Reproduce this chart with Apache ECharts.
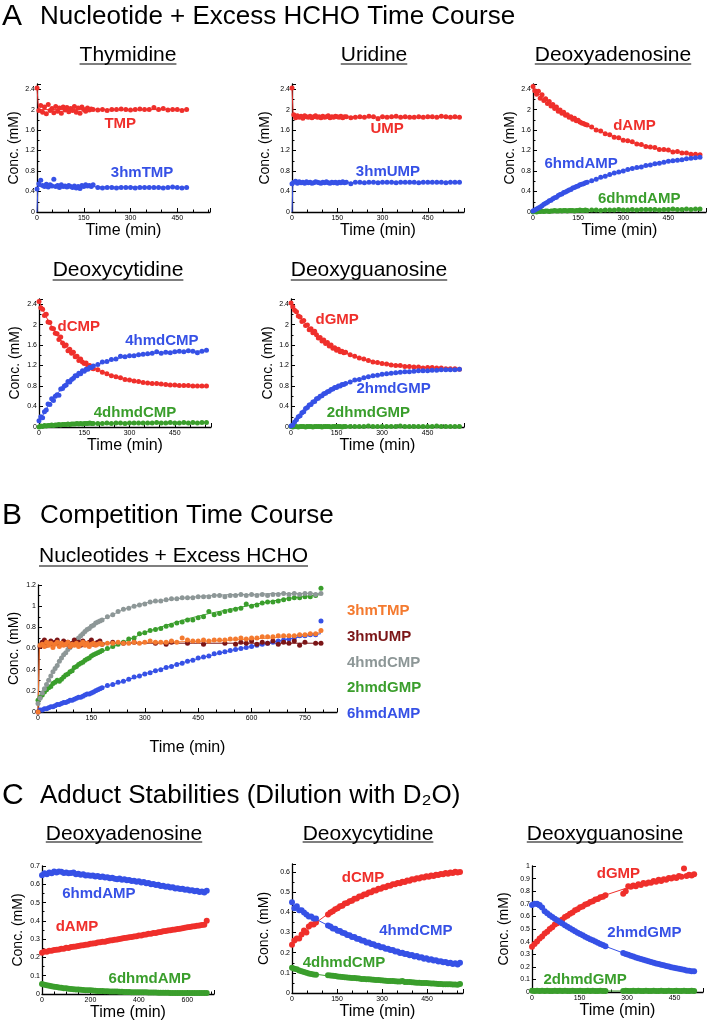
<!DOCTYPE html>
<html><head><meta charset="utf-8">
<script src="https://cdn.jsdelivr.net/npm/echarts@6/dist/echarts.min.js"></script>
<style>html,body{margin:0;padding:0;background:#fff}#c{width:708px;height:1023px}</style>
</head><body><div id="c"></div>
<script>
// ---------------- DATA ----------------
// Panel A shared time grids (min)
const tDense = [0,6,12,18,24,30,36,42,48,54,60,66,72,78,84,90,96,102,108,114,120,126,132,138,144,150,156,162,168,174,180];
const tSparseThy = [195,210,225,240,255,270,285,300,315,330,345,360,375,390,405,420,435,450,465,480];
const tSparse = [195,210,225,240,255,270,285,300,315,330,345,360,375,390,405,420,435,450,465,480,495,510,525,540,555];
const tFitA = [0,30,60,90,120,150,180,240,300,360,420,480,555];

// Thymidine
const thyTMP = [2.42,1.98,2.08,1.95,2.05,1.92,2.1,1.98,2.02,1.94,2.06,1.97,2.03,1.93,2.05,1.99,2.04,1.96,2.02,1.98,2.06,1.95,2.03,1.93,2.05,2.0,1.97,2.03,1.99,2.01,2.0,
  1.99,2.0,1.98,2.0,2.0,2.01,2.0,1.99,2.0,2.01,2.0,2.0,2.04,2.0,2.02,1.99,2.0,2.0,1.98,2.0];
const thy3hmTMP = [0.45,0.55,0.62,0.52,0.5,0.54,0.49,0.53,0.51,0.64,0.5,0.52,0.48,0.53,0.5,0.51,0.49,0.52,0.5,0.48,0.51,0.47,0.5,0.46,0.52,0.5,0.53,0.51,0.52,0.5,0.53,
  0.48,0.47,0.48,0.48,0.47,0.48,0.48,0.48,0.47,0.48,0.48,0.48,0.48,0.48,0.47,0.48,0.49,0.48,0.47,0.48];
const thyFitT = [0,5,480];
const thyFitTMP = [2.42,2.0,2.0];
const thyFit3hmT = [0,3,480];
const thyFit3hmTMP = [0,0.5,0.48];

// Uridine
const uriUMP = [2.42,1.9,1.84,1.88,1.85,1.87,1.83,1.88,1.86,1.85,1.87,1.84,1.86,1.88,1.85,1.86,1.84,1.87,1.85,1.86,1.88,1.84,1.86,1.85,1.87,1.86,1.85,1.87,1.84,1.86,1.86,
  1.84,1.85,1.86,1.85,1.87,1.86,1.82,1.86,1.85,1.86,1.87,1.85,1.86,1.85,1.85,1.86,1.85,1.86,1.86,1.85,1.87,1.86,1.85,1.86,1.85];
const uri3hmUMP = [0.55,0.58,0.6,0.56,0.59,0.57,0.58,0.56,0.59,0.57,0.58,0.56,0.57,0.59,0.58,0.57,0.56,0.58,0.57,0.59,0.57,0.56,0.58,0.57,0.58,0.56,0.58,0.57,0.59,0.57,0.58,
  0.55,0.58,0.58,0.57,0.58,0.58,0.57,0.58,0.58,0.58,0.57,0.58,0.58,0.58,0.58,0.57,0.58,0.58,0.58,0.58,0.58,0.57,0.58,0.58,0.58];
const uriFitT = [0,4,560];
const uriFitUMP = [2.42,1.86,1.85];
const uriFit3hmT = [0,3,560];
const uriFit3hmUMP = [0,0.57,0.58];

// Deoxyadenosine
const daAMP = [2.45,2.37,2.3,2.36,2.22,2.29,2.18,2.21,2.12,2.16,2.07,2.1,2.02,2.05,1.97,1.99,1.93,1.95,1.89,1.9,1.85,1.86,1.81,1.83,1.78,1.79,1.76,1.74,1.73,1.71,1.7,
  1.66,1.6,1.58,1.53,1.51,1.46,1.45,1.4,1.39,1.37,1.33,1.32,1.28,1.27,1.26,1.22,1.22,1.21,1.17,1.18,1.15,1.15,1.13,1.13,1.12];
const da6hmdAMP = [0.02,0.04,0.06,0.08,0.1,0.12,0.15,0.17,0.19,0.22,0.23,0.26,0.28,0.29,0.32,0.34,0.35,0.38,0.39,0.41,0.43,0.44,0.47,0.48,0.5,0.51,0.53,0.54,0.55,0.57,0.58,
  0.61,0.64,0.68,0.7,0.73,0.76,0.78,0.8,0.83,0.85,0.87,0.88,0.91,0.92,0.94,0.95,0.97,0.99,1.0,1.01,1.02,1.04,1.05,1.06,1.07];
const da6dhmdAMP = [0,0.01,0,0.01,0.01,0.02,0.01,0.02,0.02,0.01,0.02,0.02,0.03,0.02,0.02,0.03,0.02,0.03,0.03,0.02,0.03,0.03,0.03,0.02,0.03,0.03,0.04,0.03,0.03,0.04,0.03,
  0.04,0.04,0.03,0.04,0.04,0.04,0.05,0.04,0.04,0.05,0.04,0.05,0.05,0.05,0.05,0.04,0.05,0.05,0.06,0.05,0.05,0.06,0.05,0.06,0.06];
const daFitAMP = [2.4,2.25,2.11,1.99,1.88,1.78,1.69,1.54,1.41,1.31,1.23,1.17,1.11];
const daFit6hm = [0,0.12,0.23,0.33,0.42,0.5,0.58,0.7,0.81,0.89,0.96,1.01,1.07];
const daFit6dhm = [0,0.01,0.02,0.02,0.025,0.03,0.03,0.035,0.04,0.045,0.05,0.05,0.055];

// Deoxycytidine
const dcCMP = [2.45,2.33,2.3,2.18,2.2,2.05,2.04,1.93,1.92,1.83,1.82,1.71,1.76,1.64,1.58,1.6,1.49,1.52,1.44,1.46,1.37,1.38,1.3,1.33,1.27,1.24,1.25,1.19,1.2,1.15,1.14,
  1.12,1.07,1.04,1.0,0.98,0.96,0.93,0.92,0.9,0.89,0.87,0.86,0.85,0.85,0.84,0.83,0.82,0.82,0.81,0.81,0.81,0.8,0.8,0.8,0.8];
const dc4hmdCMP = [0.12,0.2,0.18,0.3,0.33,0.45,0.44,0.55,0.52,0.6,0.63,0.62,0.74,0.75,0.8,0.82,0.89,0.88,0.93,0.95,1.0,1.0,1.05,1.04,1.1,1.09,1.13,1.13,1.16,1.16,1.19,
  1.22,1.27,1.28,1.32,1.33,1.38,1.37,1.39,1.39,1.41,1.42,1.43,1.44,1.47,1.44,1.46,1.45,1.47,1.48,1.47,1.49,1.48,1.45,1.48,1.5];
const dc4dhmdCMP = [0,0.02,0.01,0.03,0.02,0.03,0.03,0.04,0.03,0.04,0.04,0.05,0.04,0.05,0.05,0.05,0.06,0.05,0.06,0.06,0.06,0.07,0.06,0.07,0.06,0.07,0.07,0.07,0.08,0.07,0.07,
  0.07,0.07,0.08,0.07,0.08,0.08,0.07,0.08,0.08,0.08,0.08,0.08,0.08,0.09,0.08,0.08,0.09,0.08,0.08,0.09,0.08,0.09,0.08,0.09,0.09];
const dcFitCMP = [2.45,2.08,1.79,1.57,1.39,1.26,1.15,1.01,0.92,0.86,0.83,0.81,0.8];
const dcFit4hm = [0.1,0.41,0.65,0.84,0.98,1.1,1.19,1.31,1.39,1.43,1.46,1.47,1.49];
const dcFit4dhm = [0.01,0.03,0.04,0.05,0.06,0.065,0.07,0.075,0.078,0.08,0.082,0.084,0.086];

// Deoxyguanosine
const dgGMP = [2.42,2.35,2.28,2.25,2.17,2.15,2.06,2.08,1.98,1.99,1.9,1.92,1.84,1.87,1.8,1.74,1.75,1.68,1.7,1.63,1.65,1.58,1.6,1.54,1.55,1.5,1.52,1.47,1.48,1.45,1.46,
  1.41,1.38,1.35,1.33,1.3,1.27,1.26,1.24,1.23,1.21,1.2,1.2,1.18,1.18,1.17,1.17,1.15,1.16,1.16,1.15,1.15,1.14,1.14,1.14,1.13];
const dg2hmdGMP = [0.02,0.04,0.1,0.14,0.2,0.22,0.28,0.3,0.36,0.38,0.43,0.44,0.49,0.5,0.55,0.56,0.6,0.61,0.65,0.66,0.69,0.7,0.73,0.74,0.77,0.77,0.8,0.8,0.83,0.83,0.85,
  0.88,0.92,0.93,0.96,0.98,1.0,1.01,1.03,1.04,1.05,1.06,1.07,1.08,1.08,1.09,1.1,1.1,1.1,1.11,1.11,1.12,1.12,1.12,1.12,1.13];
const dg2dhmdGMP = [0.01,0,0.01,0.01,0,0.01,0.01,0.01,0,0.01,0.01,0.01,0,0.01,0.01,0.01,0.01,0,0.01,0.01,0.01,0.01,0,0.01,0.01,0.01,0.01,0.01,0,0.01,0.01,
  0.01,0.01,0.01,0.01,0.02,0.01,0.01,0.01,0.01,0.01,0.01,0.02,0.01,0.01,0.01,0.01,0.01,0.01,0.01,0.02,0.01,0.01,0.01,0.01,0.01];
const dgFitGMP = [2.4,2.14,1.93,1.76,1.63,1.52,1.44,1.32,1.25,1.2,1.17,1.15,1.14];
const dgFit2hm = [0,0.23,0.42,0.57,0.69,0.78,0.85,0.96,1.03,1.07,1.1,1.11,1.12];
const dgFit2dhm = [0.01,0.01,0.01,0.01,0.01,0.01,0.01,0.01,0.01,0.01,0.01,0.01,0.01];

// Panel B (competition)
const tBSparse = [195,210,225,240,255,270,285,300,315,330,345,360,375,390,405,420,435,450,465,480,495,510,525,540,555,570,585,600,615,630,645,660,675,690,705,720,735,750,765,780,795];
const tBUmpSparse = [210,240,270,330,360,375,420,465,525,555,570,585,600,615,630,645,660,675,690,705,720,735,750,780,795];
const tBFit = [0,30,60,90,120,150,180,240,300,360,420,480,540,600,660,720,795];
const b4hmdCMP = [0.08,0.13,0.18,0.22,0.26,0.3,0.34,0.38,0.41,0.44,0.48,0.51,0.54,0.56,0.59,0.61,0.64,0.66,0.68,0.7,0.72,0.74,0.76,0.78,0.79,0.81,0.82,0.84,0.85,0.86,0.87,
  0.9,0.92,0.95,0.97,0.98,1.0,1.01,1.02,1.04,1.05,1.05,1.06,1.07,1.07,1.08,1.08,1.08,1.09,1.09,1.09,1.1,1.1,1.09,1.1,1.1,1.11,1.1,1.11,1.1,1.11,1.1,1.11,1.11,1.12,1.11,1.12,1.11,1.12,1.12,1.11,1.12];
const b2hmdGMP = [0.11,0.14,0.16,0.19,0.21,0.23,0.24,0.27,0.28,0.3,0.29,0.31,0.33,0.35,0.36,0.38,0.39,0.42,0.43,0.45,0.46,0.47,0.49,0.5,0.51,0.53,0.54,0.55,0.56,0.57,0.58,
  0.6,0.62,0.64,0.66,0.69,0.7,0.74,0.75,0.77,0.78,0.79,0.81,0.82,0.84,0.85,0.87,0.87,0.89,0.9,0.95,0.92,0.93,0.95,0.96,0.97,0.98,1.02,1.0,1.01,1.03,1.04,1.04,1.05,1.06,1.07,1.08,1.08,1.09,1.09,1.1,1.17];
const b6hmdAMP = [0,0.02,0.02,0.03,0.03,0.04,0.05,0.05,0.06,0.07,0.07,0.08,0.09,0.09,0.1,0.11,0.11,0.12,0.13,0.14,0.14,0.15,0.16,0.17,0.17,0.18,0.19,0.2,0.21,0.22,0.23,
  0.25,0.26,0.28,0.29,0.31,0.33,0.34,0.36,0.37,0.39,0.4,0.42,0.43,0.45,0.46,0.48,0.49,0.51,0.52,0.53,0.55,0.56,0.57,0.58,0.59,0.6,0.61,0.62,0.63,0.64,0.65,0.66,0.67,0.68,0.69,0.7,0.72,0.72,0.73,0.73,0.86];
const b3hmTMP = [0,0.63,0.64,0.62,0.66,0.63,0.65,0.61,0.64,0.66,0.62,0.65,0.63,0.64,0.66,0.62,0.64,0.63,0.65,0.62,0.64,0.66,0.63,0.65,0.62,0.64,0.65,0.63,0.64,0.65,0.64,
  0.65,0.65,0.66,0.65,0.65,0.66,0.65,0.66,0.67,0.66,0.66,0.66,0.67,0.66,0.7,0.68,0.67,0.67,0.68,0.67,0.68,0.68,0.68,0.69,0.69,0.7,0.69,0.7,0.7,0.71,0.71,0.71,0.72,0.72,0.72,0.72,0.73,0.73,0.74,0.74,0.77];
const b3hmUMP = [0,0.62,0.66,0.68,0.63,0.65,0.67,0.64,0.66,0.68,0.63,0.65,0.67,0.64,0.66,0.62,0.65,0.68,0.64,0.66,0.63,0.67,0.65,0.64,0.66,0.68,0.64,0.65,0.66,0.67,0.64,
  0.66,0.65,0.66,0.65,0.64,0.66,0.65,0.64,0.65,0.64,0.66,0.65,0.67,0.64,0.66,0.65,0.67,0.64,0.66,0.65,0.67,0.63,0.66,0.65,0.65];
const bFit4hm = [0.08,0.3,0.48,0.61,0.72,0.81,0.87,0.97,1.03,1.06,1.08,1.1,1.11,1.11,1.12,1.12,1.12];
const bFit2hm = [0.11,0.22,0.3,0.37,0.45,0.52,0.57,0.66,0.75,0.82,0.88,0.93,0.97,1.01,1.05,1.08,1.11];
const bFit6hm = [0,0.04,0.08,0.12,0.15,0.19,0.23,0.29,0.36,0.42,0.48,0.53,0.58,0.62,0.66,0.7,0.74];
const bFitTmpT = [0,4,60,120,180,240,300,360,420,480,540,600,660,720,795];
const bFit3hmTMP = [0,0.63,0.64,0.645,0.65,0.652,0.655,0.66,0.665,0.67,0.68,0.69,0.7,0.72,0.75];
const bFitUmpT = [0,4,795];
const bFit3hmUMP = [0,0.65,0.65];

// Panel C (dilution)
const tC1 = [0,10,20,30,40,50,60,70,80,90,100,110,120,130,140,150,160,170,180,190,200,210,220,230,240,250,260,270,280,290,300,310,320,330,340,350,360,370,380,390,400,410,420,430,440,450,460,470,480,490,500,510,520,530,540,550,560,570,580,590,600,610,620,630,640,650,660,670,680];
const c1_6hmdAMP = [0.65,0.66,0.655,0.665,0.66,0.67,0.665,0.67,0.668,0.662,0.665,0.66,0.662,0.665,0.655,0.658,0.652,0.655,0.648,0.65,0.646,0.648,0.643,0.645,0.64,0.642,0.637,0.638,0.633,0.636,
  0.63,0.628,0.631,0.625,0.627,0.622,0.624,0.618,0.62,0.614,0.617,0.61,0.612,0.605,0.607,0.6,0.602,0.596,0.598,0.59,0.592,0.586,0.588,0.582,0.584,0.577,0.579,0.574,0.575,0.57,
  0.572,0.566,0.568,0.562,0.564,0.558,0.56,0.555,0.565];
const c1_dAMP = [0.226,0.232,0.231,0.236,0.237,0.24,0.242,0.243,0.247,0.248,0.253,0.252,0.257,0.258,0.26,0.263,0.265,0.267,0.27,0.271,0.275,0.276,0.278,0.281,0.283,0.286,0.286,0.29,0.292,0.294,
  0.297,0.298,0.301,0.303,0.306,0.307,0.31,0.312,0.314,0.316,0.32,0.32,0.324,0.326,0.329,0.33,0.333,0.334,0.338,0.339,0.343,0.344,0.347,0.348,0.352,0.353,0.356,0.357,0.36,0.362,
  0.365,0.366,0.369,0.371,0.373,0.375,0.377,0.379,0.4];
const c1_6dhmdAMP = [0.055,0.05,0.048,0.045,0.043,0.04,0.038,0.036,0.034,0.032,0.031,0.029,0.028,0.026,0.025,0.024,0.023,0.022,0.021,0.02,0.02,0.019,0.018,0.017,0.017,0.016,0.015,0.015,0.014,0.014,
  0.013,0.013,0.012,0.012,0.011,0.011,0.011,0.01,0.01,0.01,0.009,0.009,0.009,0.009,0.008,0.008,0.008,0.008,0.007,0.007,0.007,0.007,0.007,0.006,0.006,0.006,0.006,0.006,0.006,0.005,
  0.005,0.005,0.005,0.005,0.005,0.005,0.005,0.005,0.005];
const tFitC1 = [0,100,200,300,400,500,600,680];
const c1Fit6hm = [0.66,0.665,0.647,0.63,0.615,0.592,0.571,0.56];
const c1FitAMP = [0.228,0.251,0.274,0.297,0.32,0.343,0.366,0.384];
const c1Fit6dhm = [0.052,0.032,0.02,0.013,0.009,0.007,0.005,0.005];

const tC2 = [0,8,16,24,32,40,48,56,64,72,80,
  120,128,136,144,152,160,168,176,184,192,200,208,216,224,232,240,248,256,264,272,280,288,296,304,312,320,328,336,344,352,360,368,376,384,392,400,408,416,424,432,440,448,456,464,472,480,488,496,504,512,520,528,536,544,552,560];
const c2_dCMP = [0.24,0.26,0.27,0.27,0.29,0.31,0.3,0.33,0.34,0.34,0.35,
  0.39,0.4,0.405,0.416,0.42,0.431,0.433,0.444,0.446,0.455,0.458,0.468,0.469,0.479,0.48,0.489,0.49,0.499,0.5,0.508,0.508,0.517,0.517,0.525,0.525,0.532,0.532,0.539,0.539,0.546,
  0.545,0.552,0.551,0.558,0.557,0.564,0.563,0.569,0.568,0.574,0.573,0.579,0.577,0.583,0.581,0.587,0.585,0.591,0.589,0.595,0.592,0.598,0.595,0.602,0.598,0.6];
const c2_4hmdCMP = [0.45,0.42,0.43,0.41,0.41,0.4,0.39,0.38,0.38,0.37,0.37,
  0.335,0.33,0.32,0.319,0.309,0.308,0.299,0.297,0.288,0.287,0.278,0.278,0.269,0.268,0.26,0.259,0.251,0.25,0.243,0.242,0.235,0.235,0.227,0.227,0.22,0.22,0.213,0.213,0.206,0.206,
  0.199,0.2,0.193,0.194,0.187,0.188,0.181,0.183,0.176,0.177,0.17,0.172,0.165,0.167,0.161,0.162,0.156,0.158,0.152,0.154,0.148,0.15,0.144,0.147,0.141,0.15];
const c2_4dhmdCMP = [0.125,0.12,0.118,0.112,0.108,0.104,0.1,0.097,0.094,0.092,0.09,
  0.088,0.087,0.085,0.084,0.082,0.081,0.079,0.078,0.077,0.076,0.075,0.074,0.073,0.072,0.07,0.069,0.068,0.068,0.067,0.066,0.065,0.064,0.063,0.062,0.061,0.06,0.06,0.059,0.058,0.057,
  0.057,0.06,0.055,0.054,0.054,0.053,0.052,0.051,0.051,0.05,0.049,0.049,0.048,0.047,0.047,0.046,0.045,0.045,0.044,0.044,0.043,0.043,0.042,0.042,0.041,0.045];
const tFitC2 = [0,40,80,120,160,200,240,300,360,420,480,560];
const c2FitCMP = [0.24,0.299,0.349,0.393,0.429,0.46,0.487,0.52,0.547,0.568,0.585,0.602];
const c2Fit4hm = [0.44,0.401,0.366,0.335,0.306,0.28,0.257,0.227,0.201,0.179,0.16,0.139];
const c2Fit4dhm = [0.125,0.107,0.093,0.085,0.079,0.074,0.069,0.062,0.056,0.05,0.045,0.04];

const tC3 = [0,8,16,24,32,40,48,56,64,72,80,88,96,104,112,120,128,136,144,152,160,168,176,184,192,200,208,216,224,232,
  288,296,304,312,320,328,336,344,352,360,368,376,384,392,400,408,416,424,432,440,448,456,464,472,480,488,496,504,512];
const c3_dGMP = [0.36,0.38,0.4,0.425,0.44,0.465,0.478,0.5,0.513,0.535,0.546,0.566,0.576,0.595,0.605,0.622,0.631,0.648,0.656,0.672,0.679,0.694,0.7,0.715,0.72,0.735,0.739,0.752,0.756,0.768,
  0.78,0.8,0.84,0.835,0.845,0.84,0.855,0.85,0.865,0.86,0.87,0.868,0.88,0.875,0.89,0.88,0.895,0.89,0.905,0.9,0.91,0.905,0.92,0.915,0.98,0.92,0.93,0.925,0.935];
const c3_2hmdGMP = [0.69,0.7,0.7,0.69,0.67,0.64,0.625,0.61,0.596,0.582,0.569,0.556,0.543,0.53,0.518,0.506,0.494,0.483,0.471,0.46,0.45,0.439,0.429,0.419,0.41,0.4,0.39,0.381,0.373,0.364,
  0.309,0.302,0.295,0.288,0.281,0.274,0.268,0.262,0.256,0.25,0.244,0.238,0.233,0.227,0.222,0.217,0.212,0.207,0.202,0.197,0.193,0.188,0.184,0.18,0.176,0.171,0.168,0.164,0.165];
const c3_2dhmdGMP = [0.01,0.008,0.009,0.007,0.01,0.008,0.009,0.008,0.007,0.009,0.008,0.01,0.007,0.009,0.008,0.008,0.009,0.007,0.008,0.009,0.008,0.007,0.009,0.008,0.01,0.008,0.007,0.009,0.008,0.008,
  0.008,0.009,0.007,0.008,0.01,0.008,0.009,0.007,0.008,0.009,0.008,0.007,0.009,0.008,0.008,0.01,0.007,0.008,0.009,0.008,0.007,0.009,0.008,0.008,0.009,0.007,0.008,0.009,0.008];
const tFitC3 = [0,40,80,120,160,200,240,300,360,420,480,512];
const c3FitGMP = [0.36,0.462,0.548,0.62,0.681,0.732,0.776,0.826,0.866,0.897,0.921,0.931];
const c3Fit2hm = [0.7,0.64,0.569,0.506,0.45,0.4,0.355,0.298,0.25,0.21,0.176,0.16];
const c3Fit2dhm = [0.008,0.008,0.008,0.008,0.008,0.008,0.008,0.008,0.008,0.008,0.008,0.008];

// Text
const titleA = 'Nucleotide + Excess HCHO Time Course';
const titleB = 'Competition Time Course';
const titleC = 'Adduct Stabilities (Dilution with D\u2082O)';
const legendB = ['3hmTMP','3hmUMP','4hmdCMP','2hmdGMP','6hmdAMP'];

// ---------------- STYLE / LAYOUT ----------------
const RED='#ef2f2b', BLUE='#3651e6', GREEN='#3a9e2c', ORANGE='#f47a2f', DARKRED='#7b1517', GRAY='#8d9797';
const FONT='"Liberation Sans", Arial, Helvetica, sans-serif';
const tThy = tDense.concat(tSparseThy), tA = tDense.concat(tSparse), tB = tDense.concat(tBSparse), tBU = tDense.concat(tBUmpSparse);

const S = (t,v,c,ft,fv,label,lx,ly)=>({t,v,c,ft,fv,label,lx,ly});
const plots = [
 {box:[37,84,173,128], xmax:555, xint:150, xminor:3, ymax:2.5, yint:0.4, yminor:2, yGap:15, xGap:9, ms:5,
  series:[S(tThy,thyTMP,RED,thyFitT,thyFitTMP,'TMP',267,1.72), S(tThy,thy3hmTMP,BLUE,thyFit3hmT,thyFit3hmTMP,'3hmTMP',337,0.76)]},
 {box:[292,84,172,128], xmax:570, xint:150, xminor:3, ymax:2.5, yint:0.4, yminor:2, yGap:20, xGap:9, ms:5,
  series:[S(tA,uriUMP,RED,uriFitT,uriFitUMP,'UMP',315,1.62), S(tA,uri3hmUMP,BLUE,uriFit3hmT,uriFit3hmUMP,'3hmUMP',318,0.78)]},
 {box:[533,84,173,128], xmax:575, xint:150, xminor:3, ymax:2.5, yint:0.4, yminor:2, yGap:15, xGap:9, ms:5,
  series:[S(tA,da6dhmdAMP,GREEN,tFitA,daFit6dhm,'6dhmdAMP',353,0.25), S(tA,daAMP,RED,tFitA,daFitAMP,'dAMP',337,1.68), S(tA,da6hmdAMP,BLUE,tFitA,daFit6hm,'6hmdAMP',160,0.94)]},
 {box:[39,299,172,128], xmax:570, xint:150, xminor:3, ymax:2.5, yint:0.4, yminor:2, yGap:17, xGap:10, ms:5,
  series:[S(tA,dc4dhmdCMP,GREEN,tFitA,dcFit4dhm,'4dhmdCMP',318,0.27), S(tA,dcCMP,RED,tFitA,dcFitCMP,'dCMP',132,1.95), S(tA,dc4hmdCMP,BLUE,tFitA,dcFit4hm,'4hmdCMP',407,1.68)]},
 {box:[291,299,173,128], xmax:570, xint:150, xminor:3, ymax:2.5, yint:0.4, yminor:2, yGap:16, xGap:10, ms:5,
  series:[S(tA,dg2dhmdGMP,GREEN,tFitA,dgFit2dhm,'2dhmdGMP',255,0.27), S(tA,dgGMP,RED,tFitA,dgFitGMP,'dGMP',152,2.09), S(tA,dg2hmdGMP,BLUE,tFitA,dgFit2hm,'2hmdGMP',338,0.74)]},
 {box:[38,585,299,127], xmax:840, xint:150, xminor:3, ymax:1.2, yint:0.2, yminor:2, yGap:17, xGap:28, ms:5,
  series:[S(tB,b6hmdAMP,BLUE,tBFit,bFit6hm), S(tB,b2hmdGMP,GREEN,tBFit,bFit2hm), S(tB,b4hmdCMP,GRAY,tBFit,bFit4hm),
          S(tBU,b3hmUMP,DARKRED,bFitUmpT,bFit3hmUMP), S(tB,b3hmTMP,ORANGE,bFitTmpT,bFit3hmTMP)]},
 {box:[42,866,172,128], xmax:710, xint:200, xminor:4, ymax:0.7, yint:0.1, yminor:2, yGap:17, xGap:8, ms:6,
  series:[S(tC1,c1_6dhmdAMP,GREEN,tFitC1,c1Fit6dhm,'6dhmdAMP',445,0.082), S(tC1,c1_dAMP,RED,tFitC1,c1FitAMP,'dAMP',144,0.366), S(tC1,c1_6hmdAMP,BLUE,tFitC1,c1Fit6hm,'6hmdAMP',235,0.547)]},
 {box:[292,864,171,129], xmax:570, xint:150, xminor:3, ymax:0.64, yint:0.1, yminor:2, yGap:21, xGap:9, ms:6,
  series:[S(tC2,c2_4dhmdCMP,GREEN,tFitC2,c2Fit4dhm,'4dhmdCMP',173,0.15), S(tC2,c2_dCMP,RED,tFitC2,c2FitCMP,'dCMP',237,0.57), S(tC2,c2_4hmdCMP,BLUE,tFitC2,c2Fit4hm,'4hmdCMP',413,0.31)]},
 {box:[532,866,171,126], xmax:540, xint:150, xminor:3, ymax:1.0, yint:0.1, yminor:1, yGap:21, xGap:9, ms:6,
  series:[S(tC3,c3_2dhmdGMP,GREEN,tFitC3,c3Fit2dhm,'2dhmdGMP',168,0.095), S(tC3,c3_dGMP,RED,tFitC3,c3FitGMP,'dGMP',273,0.936), S(tC3,c3_2hmdGMP,BLUE,tFitC3,c3Fit2hm,'2hmdGMP',355,0.47)]}
];

function zip(t,v){const n=Math.min(t.length,v.length),o=[];for(let i=0;i<n;i++)o.push([t[i],v[i]]);return o;}
function fmtTick(step){return function(v){const r=v/step;if(Math.abs(r-Math.round(r))>1e-6)return '';return String(+v.toFixed(2));};}

const grids=[],xAxes=[],yAxes=[],series=[];
plots.forEach((p,i)=>{
  grids.push({left:p.box[0],top:p.box[1],width:p.box[2],height:p.box[3],outerBoundsMode:'none'});
  const common={gridIndex:i,type:'value',min:0,nameLocation:'middle',
    axisLine:{show:true,onZero:false,lineStyle:{color:'#000',width:1.3}},
    axisTick:{show:true,inside:true,length:4,lineStyle:{color:'#000',width:1}},
    splitLine:{show:false},minorSplitLine:{show:false}};
  xAxes.push(Object.assign({},common,{max:p.xmax,interval:p.xint,name:'Time (min)',nameGap:p.xGap,
    nameTextStyle:{fontSize:16,color:'#000',fontFamily:FONT},
    minorTick:{show:true,splitNumber:p.xminor,length:2.5,lineStyle:{color:'#000'}},
    axisLabel:{fontSize:7,color:'#000',margin:3,fontFamily:FONT,formatter:fmtTick(p.xint),showMaxLabel:true,hideOverlap:false}}));
  yAxes.push(Object.assign({},common,{max:p.ymax,interval:p.yint,name:'Conc. (mM)',nameGap:p.yGap,nameRotate:90,
    nameTextStyle:{fontSize:14,color:'#000',fontFamily:FONT},
    minorTick:{show:p.yminor>1,splitNumber:p.yminor,length:2.5,lineStyle:{color:'#000'}},
    axisLabel:{fontSize:7,color:'#000',margin:2,fontFamily:FONT,formatter:fmtTick(p.yint),showMaxLabel:true,hideOverlap:false}}));
  p.series.forEach(s=>{
    series.push({type:'line',xAxisIndex:i,yAxisIndex:i,data:zip(s.ft,s.fv),showSymbol:false,symbol:'none',
      lineStyle:{color:s.c,width:1},silent:true,z:2,animation:false});
    const sc={type:'scatter',xAxisIndex:i,yAxisIndex:i,data:zip(s.t,s.v),symbol:'circle',symbolSize:p.ms,
      itemStyle:{color:s.c,opacity:1},silent:true,z:3,animation:false};
    if(s.label){
      sc.markPoint={symbol:'circle',symbolSize:1,silent:true,animation:false,itemStyle:{color:'rgba(0,0,0,0)'},
        label:{show:true,position:'inside',formatter:s.label,color:s.c,fontSize:15,fontWeight:'bold',fontFamily:FONT},
        data:[{coord:[s.lx,s.ly]}]};
    }
    series.push(sc);
  });
});

// Headings
const ctx=document.createElement('canvas').getContext('2d');
function tw(text,font){ctx.font=font;return ctx.measureText(text).width;}
const SUBF='21px "Liberation Sans"';
const graphic=[];
function txt(text,x,y,size,opts){graphic.push({type:'text',x:x,y:y,silent:true,
  style:Object.assign({text:text,fill:'#000',fontSize:size,fontFamily:FONT,align:'left',verticalAlign:'middle'},opts||{})});}
txt('A',2,17,30); txt(titleA,40,17,26);
txt('B',2,516,30); txt(titleB,40,516,26);
txt('C',2,796,30); txt(titleC,40,796,26);
const subs=[
 {t:'Thymidine',cx:128,cy:55,uy:64},{t:'Uridine',cx:374,cy:55,uy:64},{t:'Deoxyadenosine',cx:613,cy:55,uy:64},
 {t:'Deoxycytidine',cx:118,cy:270,uy:280},{t:'Deoxyguanosine',cx:369,cy:270,uy:280},
 {t:'Deoxyadenosine',cx:124,cy:834,uy:842},{t:'Deoxycytidine',cx:368,cy:834,uy:842},{t:'Deoxyguanosine',cx:605,cy:834,uy:842}
];
subs.forEach(s=>{
  const w=tw(s.t,SUBF);
  txt(s.t,s.cx,s.cy,21,{align:'center'});
  graphic.push({type:'line',silent:true,shape:{x1:s.cx-w/2,y1:s.uy,x2:s.cx+w/2,y2:s.uy},style:{stroke:'#000',lineWidth:1.2}});
});
const subB='Nucleotides + Excess HCHO';
const wB=tw(subB,SUBF);
txt(subB,39,556,21);
graphic.push({type:'line',silent:true,shape:{x1:39,y1:566,x2:39+wB,y2:566},style:{stroke:'#000',lineWidth:1.2}});
const legCols=[ORANGE,DARKRED,GRAY,GREEN,BLUE];
legendB.forEach((l,k)=>{txt(l,347,611+k*25.7,15,{fill:legCols[k],fontWeight:'bold'});});

const chart=echarts.init(document.getElementById('c'),null,{renderer:'canvas'});
chart.setOption({animation:false,backgroundColor:'#fff',grid:grids,xAxis:xAxes,yAxis:yAxes,series:series,graphic:graphic});
</script></body></html>
